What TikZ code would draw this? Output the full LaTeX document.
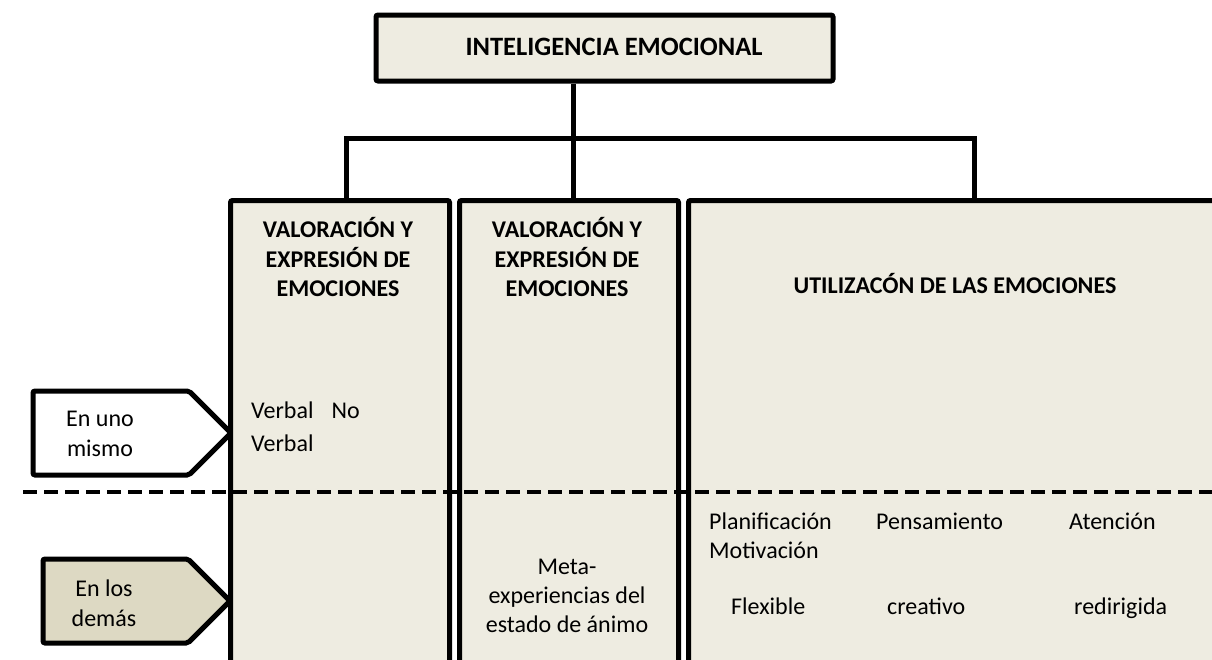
\documentclass[tikz,border=0pt]{standalone}
\usepackage{fontspec}
\setmainfont{Carlito}
\usetikzlibrary{shapes.symbols}
\definecolor{boxfill}{HTML}{EEECE1}
\definecolor{tanfill}{HTML}{DDD9C3}
\begin{document}
\begin{tikzpicture}[x=1pt,y=-1pt,
  thick box/.style={draw=black,line width=5pt,fill=boxfill,rounded corners=2pt,inner sep=0pt},
  conn/.style={draw=black,line width=5pt},
  hdr/.style={font=\fontsize{24}{29.5}\selectfont\bfseries,align=center,inner sep=0pt},
  body/.style={font=\fontsize{24}{29}\selectfont,inner sep=0pt},
  tag/.style={draw=black,line width=5pt,rounded corners=2pt,shape=signal,signal to=east,signal pointer angle=90,inner sep=0pt},
  tagtxt/.style={font=\fontsize{24}{29.5}\selectfont,align=center,inner sep=0pt}]
\useasboundingbox[fill=white] (0,0) rectangle (1212,659);
% main boxes
\node[thick box,anchor=north west,minimum width=219pt,minimum height=500pt] (b1) at (228,198) {};
\node[thick box,anchor=north west,minimum width=219pt,minimum height=500pt] (b2) at (457,198) {};
\node[thick box,anchor=north west,minimum width=560pt,minimum height=500pt] (b3) at (686,198) {};
\node[thick box,minimum width=457pt,minimum height=66pt] (top) at (604.5,48) {};
\node[font=\fontsize{26.5}{32}\selectfont\bfseries,inner sep=0pt] (toptxt) at (614,47) {INTELIGENCIA EMOCIONAL};
% connectors
\coordinate (c1) at (346,138);
\coordinate (c2) at (573,138);
\coordinate (c3) at (974,138);
\draw[conn] (c2 |- top.south) -- (c2);
\draw[conn] (c1 |- b1.north) -- (c1) -- (c3) -- (c3 |- b3.north);
\draw[conn] (c2) -- (c2 |- b2.north);
% headers
\node[hdr] (h1) at (338,257) {VALORACIÓN Y\\EXPRESIÓN DE\\EMOCIONES};
\node[hdr] (h2) at (567,257) {VALORACIÓN Y\\EXPRESIÓN DE\\EMOCIONES};
\node[hdr] (h3) at (955,284) {UTILIZACÓN DE LAS EMOCIONES};
% dashed divider
\coordinate (dl) at (23,492);
\coordinate (dr) at (1212,492);
\draw[line width=4pt,dash pattern=on 14pt off 7pt] (dl) -- (dr);
% side tags
\node[tag,fill=white,minimum width=198pt,minimum height=84pt] (t1) at (111,433) {};
\node[tagtxt] (t1txt) at (100,434) {En uno\\mismo};
\node[tag,fill=tanfill,minimum width=187pt,minimum height=84pt] (t2) at (115.5,601) {};
\node[tagtxt] (t2txt) at (104,603) {En los\\demás};
% body texts
\node[body,anchor=west,align=left,font=\fontsize{24}{33}\selectfont] (v) at (251,427) {Verbal\hspace{18pt}No\\Verbal};
\node[body,align=center] (meta) at (567,596) {Meta-\\experiencias del\\estado de ánimo};
\node[body,anchor=base west] (plan) at (709,529) {Planificación};
\node[body,anchor=base west] (motiv) at (709,558) {Motivación};
\node[body,anchor=base west] (pens) at (876,529) {Pensamiento};
\node[body,anchor=base west] (aten) at (1069,529) {Atención};
\node[body,anchor=base west] (flex) at (731,614) {Flexible};
\node[body,anchor=base west] (crea) at (887,614) {creativo};
\node[body,anchor=base west] (redi) at (1074,614) {redirigida};
\end{tikzpicture}
\end{document}
